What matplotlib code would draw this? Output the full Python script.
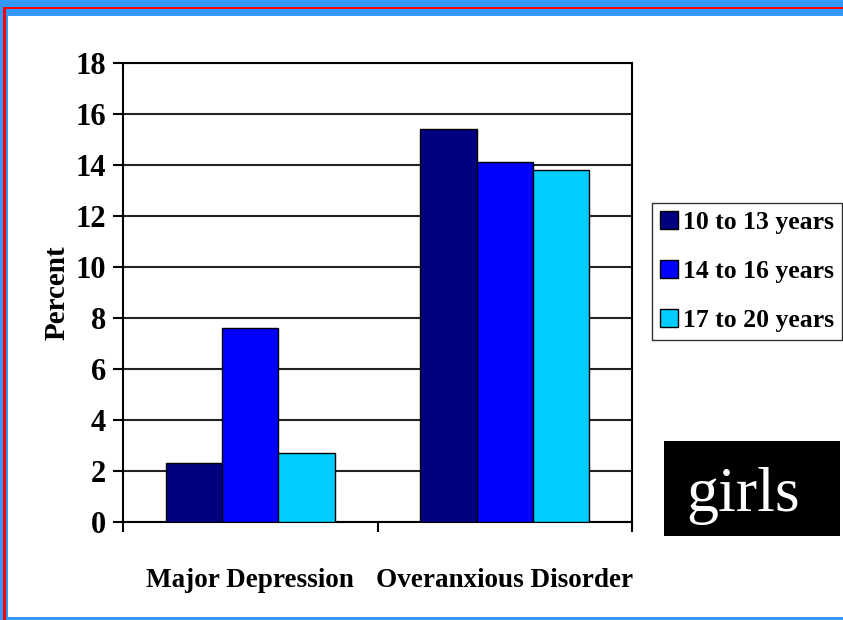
import matplotlib
matplotlib.use("Agg")
import matplotlib.pyplot as plt
from matplotlib.patches import Rectangle
import numpy as np

categories = ["Major Depression", "Overanxious Disorder"]
age_groups = ["10 to 13 years", "14 to 16 years", "17 to 20 years"]
values = {
    "10 to 13 years": [2.3, 15.4],
    "14 to 16 years": [7.6, 14.1],
    "17 to 20 years": [2.7, 13.8],
}
colors = ["#000080", "#0000FF", "#00CCFF"]
y_ticks = [0, 2, 4, 6, 8, 10, 12, 14, 16, 18]

W, H = 843, 620
fig = plt.figure(figsize=(W / 100, H / 100), dpi=100)
serif = ["Liberation Serif", "DejaVu Serif"]

# blue frame with red inner line around the slide
def px_rect(x0, y0, x1, y1, color):
    fig.patches.append(Rectangle((x0 / W, 1 - y1 / H), (x1 - x0) / W, (y1 - y0) / H,
                                 transform=fig.transFigure, facecolor=color,
                                 edgecolor="none", zorder=0))

px_rect(0, 0, W, 16, "#3399FF")
px_rect(0, 0, 8, H, "#3399FF")
px_rect(0, 617, W, H, "#3399FF")
px_rect(3.5, 7, W, 9, "#FF0000")
px_rect(3.5, 7, 5.5, H, "#FF0000")

ax = fig.add_axes([123 / W, 1 - 522 / H, (632 - 123) / W, (522 - 63) / H])

x = np.arange(len(categories))
bw = 0.222
for i, (grp, col) in enumerate(zip(age_groups, colors)):
    ax.bar(x + (i - 1) * bw, values[grp], bw, color=col, edgecolor="black",
           linewidth=1.0, label=grp, zorder=3)

ax.set_xlim(-0.5, 1.5)
ax.set_ylim(0, 18)
ax.set_yticks(y_ticks)
ax.set_yticklabels([str(v) for v in y_ticks], fontfamily=serif,
                   fontweight="bold", fontsize=22)
ax.yaxis.grid(True, color="#222222", linewidth=1.5, zorder=0)
ax.set_axisbelow(True)

ax.set_xticks(x)
ax.set_xticklabels(categories, fontfamily=serif, fontweight="bold", fontsize=19.5)
ax.set_xticks([-0.5, 0.5, 1.5], minor=True)
ax.tick_params(axis="x", which="major", length=0, pad=33)
ax.tick_params(axis="x", which="minor", length=7, width=1.5, direction="out")
ax.tick_params(axis="y", length=7, width=1.5, direction="out", pad=5)
for s in ax.spines.values():
    s.set_linewidth(1.5)

ax.set_ylabel("Percent", fontfamily=serif, fontweight="bold", fontsize=21)
ax.yaxis.set_label_coords(-0.104, 0.5)

leg = ax.legend(loc="upper left", bbox_to_anchor=(652 / W, 1 - 203 / H),
                bbox_transform=fig.transFigure, frameon=True, fancybox=False,
                prop={"family": serif, "weight": "bold", "size": 18.5},
                handlelength=0.7, handleheight=0.7, handletextpad=0.2,
                labelspacing=1.02, borderpad=0.3, borderaxespad=0)
leg.get_frame().set_edgecolor("black")
leg.get_frame().set_linewidth(1.0)

# "girls" label box
px_rect(664, 441, 840, 536, "black")
fig.text(743 / W, 1 - 496 / H, "girls", color="white", fontfamily=serif,
         fontsize=46, ha="center", va="center")

fig.savefig("out.png", dpi=100, facecolor="white")
